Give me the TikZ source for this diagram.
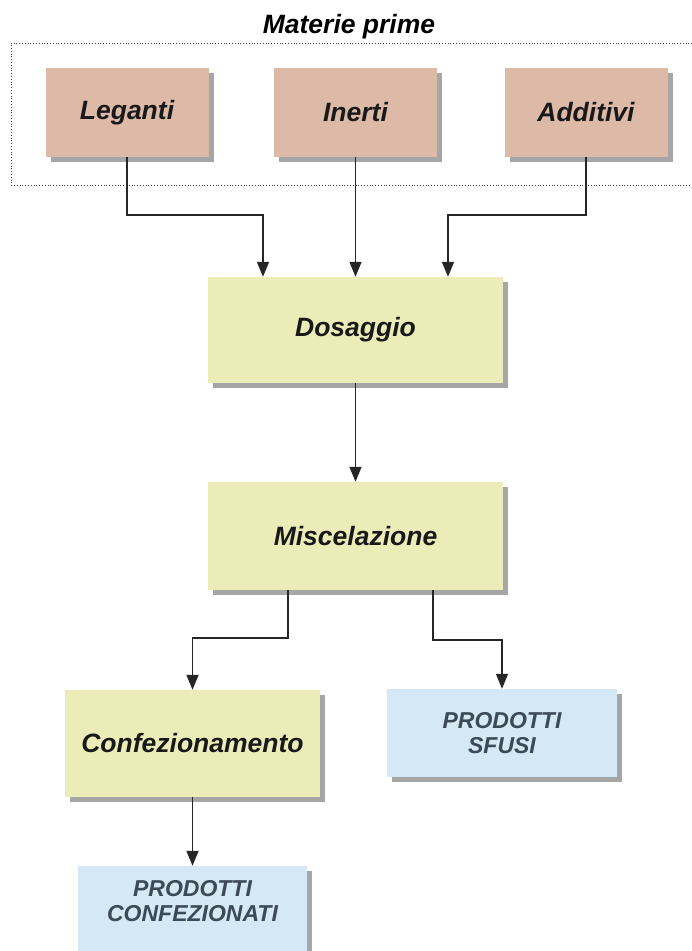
\documentclass[tikz,border=0pt]{standalone}
\usepackage{fontspec}
\setmainfont{Liberation Sans}
\usetikzlibrary{arrows.meta,shadows}
\definecolor{pinkfill}{HTML}{DDB9A7}
\definecolor{yellowfill}{HTML}{ECECB8}
\definecolor{bluefill}{HTML}{D5E8F6}
\definecolor{shadowgray}{HTML}{A6A6A6}
\definecolor{linecol}{HTML}{262626}
\definecolor{bluetextcol}{HTML}{3B4A55}
\tikzset{
  boxbase/.style={draw=none, inner sep=0pt, align=center,
    drop shadow={shadow xshift=5pt, shadow yshift=-5pt, fill=shadowgray, opacity=1}},
  rawbox/.style={boxbase, fill=pinkfill, minimum width=163pt, minimum height=89pt,
    font=\fontsize{26.5}{30}\selectfont\bfseries\itshape, text=black!90},
  procbox/.style={boxbase, fill=yellowfill,
    font=\fontsize{26.5}{30}\selectfont\bfseries\itshape, text=black!90},
  prodbox/.style={boxbase, fill=bluefill},
  prodtext/.style={inner sep=0pt, align=center,
    font=\fontsize{23}{25}\selectfont\bfseries\itshape, text=bluetextcol},
  arr/.style={draw=linecol, line width=1.5pt, -{Triangle[length=15pt,width=12pt]}},
  group/.style={draw=black!75, line width=0.8pt, dotted}
}
\begin{document}
\begin{tikzpicture}[x=1pt,y=-1pt]
\useasboundingbox (0,0) rectangle (692,951);
% group frame
\node[font=\fontsize{26.5}{30}\selectfont\bfseries\itshape, inner sep=0pt] (title) at (349,27) {Materie prime};
\draw[group] (692,43) -- (11,43) -- (11,185) -- (692,185);
% raw materials
\node[rawbox] (leg) at (127,112.5) {Leganti};
\node[rawbox] (ine) at (355.5,112.5) {Inerti};
\node[rawbox] (add) at (586,112.5) {Additivi};
% process
\node[procbox, minimum width=295pt, minimum height=106pt] (dos) at (355.5,330) {Dosaggio};
\node[procbox, minimum width=295pt, minimum height=108pt] (mis) at (355.5,536) {Miscelazione};
\node[procbox, minimum width=255pt, minimum height=107pt] (conf) at (192.5,743.5) {Confezionamento};
% products
\node[prodbox, minimum width=230pt, minimum height=88pt] (sfusi) at (502,733) {};
\node[prodtext] (sfusitext) at (502,733) {PRODOTTI\\SFUSI};
\node[prodbox, minimum width=229pt, minimum height=100pt] (pconf) at (192.5,916) {};
\node[prodtext] (pconftext) at (192.5,901) {PRODOTTI\\CONFEZIONATI};
% connectors
\coordinate (j1) at (263,215);
\coordinate (j3) at (448,215);
\draw[arr] (leg.south) |- (j1) -- (j1 |- dos.north);
\draw[arr] (ine.south) -- (ine.south |- dos.north);
\draw[arr] (add.south) |- (j3) -- (j3 |- dos.north);
\draw[arr] (dos.south) -- (mis.north);
\coordinate (m1) at (288,638);
\coordinate (m2) at (433,640);
\draw[arr] (m1 |- mis.south) -- (m1) -| (conf.north);
\draw[arr] (m2 |- mis.south) -- (m2) -| (sfusi.north);
\draw[arr] (conf.south) -- (pconf.north);
\end{tikzpicture}
\end{document}
